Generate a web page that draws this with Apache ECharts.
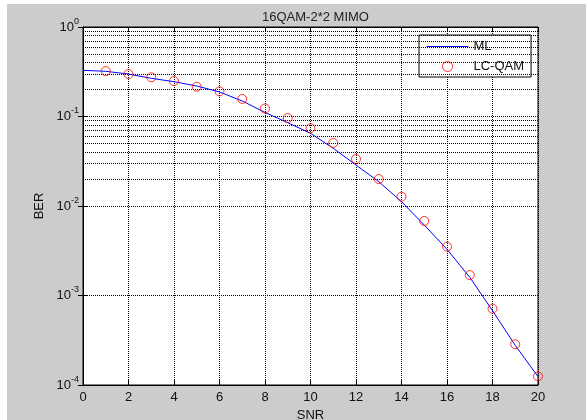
<!DOCTYPE html>
<html>
<head>
<meta charset="utf-8">
<script src="https://cdn.jsdelivr.net/npm/echarts@6/dist/echarts.min.js"></script>
<style>
html,body{margin:0;padding:0;background:#fff;}
#c{width:586px;height:420px;}
</style>
</head>
<body>
<div id="c"></div>
<script>
// ---- data ----
const snr = [0,1,2,3,4,5,6,7,8,9,10,11,12,13,14,15,16,17,18,19,20];
const mlBer = [0.328,0.320,0.298,0.267,0.245,0.219,0.188,0.149,0.111,0.0853,0.0649,0.0441,0.0287,0.0187,0.01117,0.00613,0.00328,0.00160,0.000677,0.000277,0.000124];
const lcSnr = [1,2,3,4,5,6,7,8,9,10,11,12,13,14,15,16,17,18,19,20];
const lcBer = [0.322,0.298,0.274,0.249,0.215,0.191,0.157,0.123,0.0962,0.0738,0.0506,0.0335,0.0200,0.0127,0.00680,0.00351,0.00169,0.000713,0.000285,0.000125];
const xTicks = [0,2,4,6,8,10,12,14,16,18,20];
const decades = [-4,-3,-2,-1,0];
const mantissas = [2,3,4,5,6,7,8,9];
const titleText = '16QAM-2*2 MIMO';
const xName = 'SNR';
const yName = 'BER';
const seriesNames = ['ML','LC-QAM'];

// minor grid levels (2..9 x 10^k)
const minorLevels = [];
decades.slice(0,-1).forEach(e => mantissas.forEach(m => minorLevels.push(m*Math.pow(10,e))));

const FONT = 'Liberation Sans, Arial, Helvetica, sans-serif';
const chart = echarts.init(document.getElementById('c'), null, {renderer:'canvas'});
const gridLine = {show:true, lineStyle:{color:'#000', type:[1,1], width:1}};

const option = {
  backgroundColor:'#cccccc',
  animation:false,
  textStyle:{fontFamily:FONT},
  graphic:[
    {type:'rect', shape:{x:0,y:0,width:586,height:4}, style:{fill:'#fff'}, silent:true},
    {type:'rect', shape:{x:0,y:0,width:7,height:420}, style:{fill:'#fff'}, silent:true}
  ],
  title:{
    text:titleText, left:310.5, top:6, textAlign:'center',
    textStyle:{fontSize:13, fontWeight:'normal', color:'#222', fontFamily:FONT}
  },
  legend:{
    left:419, top:35, orient:'vertical',
    padding:[5,7,4,7], itemWidth:42, itemHeight:10, itemGap:7,
    borderColor:'#000', borderWidth:1, backgroundColor:'#fff',
    textStyle:{fontSize:13, color:'#111', fontFamily:FONT},
    data:[
      {name:seriesNames[0], itemStyle:{color:'rgba(0,0,0,0)', borderWidth:0, opacity:0},
       lineStyle:{width:1, color:'#0000ff'}},
      {name:seriesNames[1], itemStyle:{color:'rgba(0,0,0,0)', borderColor:'#ff0000', borderWidth:1}}
    ]
  },
  grid:{left:83, right:48, top:27, bottom:35, outerBoundsMode:'none', containLabel:false,
        show:true, backgroundColor:'#fff', borderColor:'#000', borderWidth:1},
  xAxis:[{
    type:'value', min:0, max:20, interval:2, position:'bottom',
    name:xName, nameLocation:'middle', nameGap:21,
    nameTextStyle:{fontSize:13, color:'#111', fontFamily:FONT},
    axisLine:{show:true, lineStyle:{color:'#000', width:1}},
    axisTick:{show:true, inside:true, length:5, lineStyle:{color:'#000'}},
    axisLabel:{fontSize:13, color:'#111', margin:6, fontFamily:FONT},
    splitLine:gridLine
  },{
    type:'value', min:0, max:20, interval:2, position:'top',
    axisLine:{show:true, lineStyle:{color:'#000'}},
    axisTick:{show:true, inside:true, length:5, lineStyle:{color:'#000'}},
    axisLabel:{show:false}, splitLine:{show:false}
  }],
  yAxis:[{
    type:'log', logBase:10, min:1e-4, max:1, position:'left',
    name:yName, nameLocation:'middle', nameGap:34, nameRotate:90,
    nameTextStyle:{fontSize:13, color:'#111', fontFamily:FONT},
    axisLine:{show:true, lineStyle:{color:'#000', width:1}},
    axisTick:{show:true, inside:true, length:5, lineStyle:{color:'#000'}},
    axisLabel:{
      margin:4, color:'#111',
      formatter:function(v){ const e=Math.round(Math.log10(v)); return '{b|10}{s|'+e+'}'; },
      rich:{
        b:{fontSize:13, fontFamily:FONT, color:'#111', verticalAlign:'middle'},
        s:{fontSize:9, fontFamily:FONT, color:'#111', verticalAlign:'middle', padding:[0,0,11,0]}
      }
    },
    splitLine:gridLine
  },{
    type:'log', logBase:10, min:1e-4, max:1, position:'right',
    axisLine:{show:true, lineStyle:{color:'#000'}},
    axisTick:{show:true, inside:true, length:5, lineStyle:{color:'#000'}},
    axisLabel:{show:false}, splitLine:{show:false}
  }],
  series:[{
    name:seriesNames[0], type:'line', xAxisIndex:0, yAxisIndex:0,
    data:snr.map((x,i)=>[x, mlBer[i]]),
    showSymbol:false, symbol:'circle', symbolSize:0, smooth:false,
    lineStyle:{color:'#0000ff', width:1}, itemStyle:{color:'#0000ff'},
    z:3,
    markLine:{
      silent:true, symbol:'none', label:{show:false}, animation:false,
      lineStyle:{color:'#000', type:[1,1], width:1},
      data: minorLevels.map(v=>({yAxis:v}))
    }
  },{
    name:seriesNames[1], type:'scatter', xAxisIndex:0, yAxisIndex:0,
    data:lcSnr.map((x,i)=>[x, lcBer[i]]),
    symbol:'circle', symbolSize:9,
    itemStyle:{color:'rgba(0,0,0,0)', borderColor:'#ff0000', borderWidth:1},
    z:4
  }]
};
chart.setOption(option);
</script>
</body>
</html>
